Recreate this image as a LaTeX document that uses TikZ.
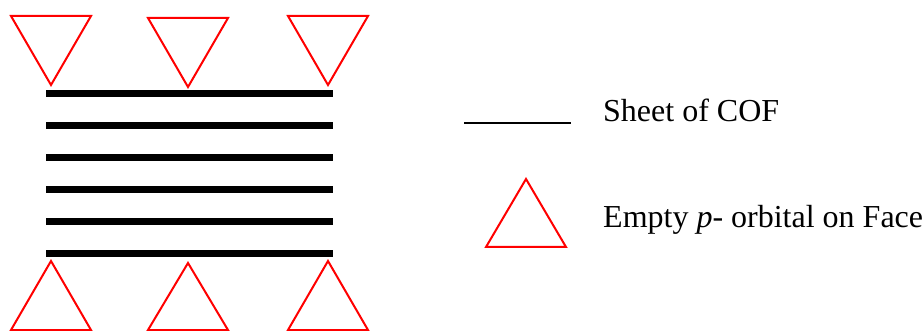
\documentclass[tikz,border=0pt]{standalone}
\usepackage{fontspec}
\setmainfont{Liberation Serif}
\usetikzlibrary{positioning}

\tikzset{
  sheet/.style={line width=7pt},
  orbital/.style={draw=red, line width=2pt},
  legendtext/.style={anchor=base west, inner sep=0pt, font=\fontsize{32}{38}\selectfont}
}

\begin{document}
\begin{tikzpicture}[x=1pt,y=-1pt]
\useasboundingbox (0,0) rectangle (924,331);
% Stack of COF sheets
\foreach \y in {94,126,158,190,222,254} {
  \draw[sheet] (46,\y) -- (333,\y);
}
% Empty orbitals above the stack (pointing down)
\foreach \x/\t/\a in {51/16/85,188/18/87,328/16/85} {
  \draw[orbital] (\x-40,\t) -- (\x+40,\t) -- (\x,\a) -- cycle;
}
% Empty orbitals below the stack (pointing up)
\foreach \x/\a in {51/261,188/263,328/261} {
  \draw[orbital] (\x,\a) -- (\x+40,330) -- (\x-40,330) -- cycle;
}
% Legend
\coordinate (lineL) at (464,123);
\coordinate (lineR) at (571,123);
\draw[line width=2pt] (lineL) -- (lineR);
\node[legendtext] (sheetlbl) at (603,122) {Sheet of COF};
\draw[orbital] (526,179) -- (566,247) -- (486,247) -- cycle;
\node[legendtext] (orblbl) at (603,228) {Empty \textit{p}- orbital on Face};
\end{tikzpicture}
\end{document}
